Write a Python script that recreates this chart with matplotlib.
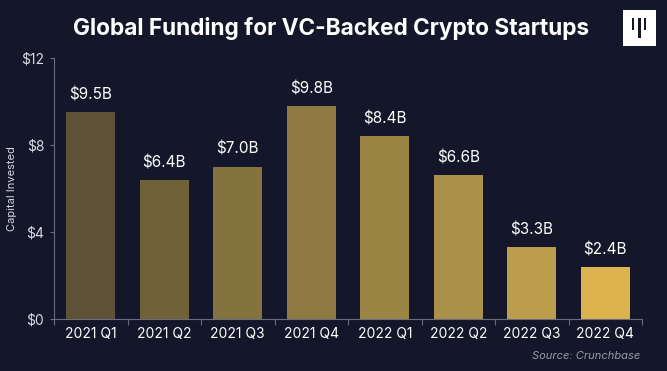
import matplotlib.pyplot as plt
from matplotlib.patches import Rectangle

categories = ["2021 Q1", "2021 Q2", "2021 Q3", "2021 Q4", "2022 Q1", "2022 Q2", "2022 Q3", "2022 Q4"]
values = [9.5, 6.4, 7.0, 9.8, 8.4, 6.6, 3.3, 2.4]
labels = ["$9.5B", "$6.4B", "$7.0B", "$9.8B", "$8.4B", "$6.6B", "$3.3B", "$2.4B"]
yticks = [0, 4, 8, 12]
ytick_labels = ["$0", "$4", "$8", "$12"]
colors = ["#5e5236", "#706238", "#85733f", "#8f7b42", "#9b8544", "#aa9048", "#bc9d4b", "#dcb34f"]

bg = "#141629"
plt.rcParams['font.family'] = ['Inter', 'DejaVu Sans']

fig = plt.figure(figsize=(6.67, 3.71), dpi=100, facecolor=bg)
ax = fig.add_axes([54/667, 1-319/371, (642-54)/667, (319-58)/371])
ax.set_facecolor(bg)

x = list(range(len(categories)))
ax.bar(x, values, width=0.66, color=colors, zorder=2)
for xi, v, lab in zip(x, values, labels):
    ax.text(xi, v + 0.45, lab, ha='center', va='bottom', color='white', fontsize=11)

ax.set_xlim(-0.5, len(categories) - 0.5)
ax.set_ylim(0, 12)
ax.set_yticks(yticks)
ax.set_yticklabels(ytick_labels)
ax.set_xticks([i - 0.5 for i in range(len(categories) + 1)], minor=False)
ax.set_xticklabels([""] * (len(categories) + 1))
ax.set_xticks(x, minor=True)
ax.set_xticklabels(categories, minor=True)
ax.tick_params(axis='x', which='minor', length=0, pad=6, labelsize=10, labelcolor='white')
ax.tick_params(axis='x', which='major', length=4, color='#6a6d80')
ax.tick_params(axis='y', length=3, color='#6a6d80', labelsize=10, labelcolor='#d8d8e0', pad=4)
for s in ['top', 'right']:
    ax.spines[s].set_visible(False)
for s in ['left', 'bottom']:
    ax.spines[s].set_color('#6a6d80')
    ax.spines[s].set_linewidth(0.8)
ax.set_ylabel("Capital Invested", color='#d8d8e0', fontsize=8)
ax.yaxis.set_label_coords(-(54 - 17) / 588, 0.5)

fig.text(331/667, 1-28/371, "Global Funding for VC-Backed Crypto Startups", ha='center', va='center',
         color='white', fontsize=16.3, fontweight='bold')
fig.text(640/667, 1-356/371, "Source: Crunchbase", ha='right', va='center', color='#9a9aa8',
         fontsize=8, style='italic')

# logo
def frect(x0, y0, w, h, c):
    fig.patches.append(Rectangle((x0/667, 1-(y0+h)/371), w/667, h/371, transform=fig.transFigure,
                                 facecolor=c, edgecolor='none'))
frect(623, 10, 33, 36, 'white')
frect(631.5, 18, 2.5, 12, '#141629')
frect(637.5, 18, 3, 20, '#141629')
frect(643.5, 18, 2.5, 12, '#141629')

fig.savefig("out.png", dpi=100, facecolor=bg)
